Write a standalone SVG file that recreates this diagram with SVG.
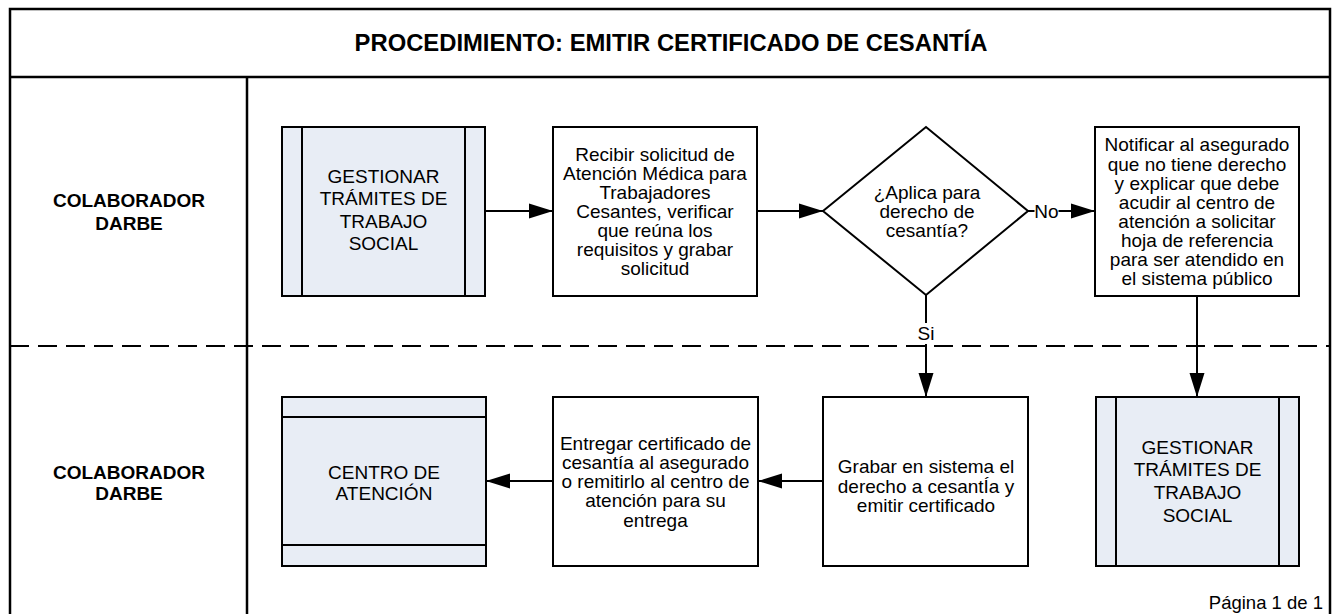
<svg xmlns="http://www.w3.org/2000/svg" width="1333" height="614" viewBox="0 0 1333 614">
<defs>
<style>
.frame{fill:none;stroke:#000;stroke-width:2.5}
.dash{fill:none;stroke:#000;stroke-width:2;stroke-dasharray:19 9}
.box{fill:#fff;stroke:#000;stroke-width:2}
.sub{fill:#E8EDF5;stroke:#000;stroke-width:2}
.in{fill:none;stroke:#000;stroke-width:2}
.t{font-family:"Liberation Sans",Arial,sans-serif;font-size:19px;text-anchor:middle;fill:#000}
.lane{font-weight:bold}
.title{font-size:23.8px;font-weight:bold}
.conn{fill:none;stroke:#000;stroke-width:2}
.bg{fill:#fff;stroke:none}
</style>
<marker id="ah" markerUnits="userSpaceOnUse" markerWidth="24" markerHeight="16" refX="24" refY="8" orient="auto">
<path d="M0,0.5 L24,8 L0,15.5 z" fill="#000"/>
</marker>
</defs>
<rect width="1333" height="614" fill="#fff"/>
<g id="frame">
<path class="frame" d="M10,620 V9 H1330 V620"/>
<line class="frame" x1="10" y1="77" x2="1330" y2="77"/>
<line class="frame" x1="247" y1="77" x2="247" y2="620"/>
<line class="dash" x1="10" y1="346" x2="1330" y2="346"/>
<text class="t title" x="671" y="50.5">PROCEDIMIENTO: EMITIR CERTIFICADO DE CESANTÍA</text>
<text class="t" x="1323" y="609" style="text-anchor:end;font-size:18.5px">Página 1 de 1</text>
</g>
<g id="lane1">
<text class="t lane" x="129" y="207">COLABORADOR</text>
<text class="t lane" x="129" y="230">DARBE</text>
</g>
<g id="lane2">
<text class="t lane" x="129" y="479">COLABORADOR</text>
<text class="t lane" x="129" y="500">DARBE</text>
</g>
<g id="connectors">
<path class="conn" d="M485,211 H553" marker-end="url(#ah)"/>
<path class="conn" d="M757,211 H823" marker-end="url(#ah)"/>
<path class="conn" d="M1028,211 H1095" marker-end="url(#ah)"/>
<path class="conn" d="M926,295 V397" marker-end="url(#ah)"/>
<path class="conn" d="M1197,296 V397" marker-end="url(#ah)"/>
<path class="conn" d="M823,481 H758" marker-end="url(#ah)"/>
<path class="conn" d="M553,481 H486" marker-end="url(#ah)"/>
<rect class="bg" x="1034.5" y="201" width="24" height="20"/>
<text class="t" x="1046.5" y="218">No</text>
<rect class="bg" x="917" y="323" width="18" height="21"/>
<text class="t" x="926" y="340">Si</text>
</g>
<g id="n1">
<rect class="sub" x="282" y="127" width="203" height="169"/>
<line class="in" x1="302" y1="127" x2="302" y2="296"/>
<line class="in" x1="465" y1="127" x2="465" y2="296"/>
<text class="t" x="383.5" y="183">GESTIONAR</text>
<text class="t" x="383.5" y="205">TRÁMITES DE</text>
<text class="t" x="383.5" y="228">TRABAJO</text>
<text class="t" x="383.5" y="250">SOCIAL</text>
</g>
<g id="n2">
<rect class="box" x="553" y="127" width="204" height="169"/>
<text class="t" x="655" y="160.5">Recibir solicitud de</text>
<text class="t" x="655" y="179.6">Atención Médica para</text>
<text class="t" x="655" y="198.7">Trabajadores</text>
<text class="t" x="655" y="217.8">Cesantes, verificar</text>
<text class="t" x="655" y="236.9">que reúna los</text>
<text class="t" x="655" y="256">requisitos y grabar</text>
<text class="t" x="655" y="275.1">solicitud</text>
</g>
<g id="n3">
<polygon class="box" points="823,211 926,127 1028,211 926,295"/>
<text class="t" x="927" y="199">¿Aplica para</text>
<text class="t" x="927" y="218">derecho de</text>
<text class="t" x="927" y="237">cesantía?</text>
</g>
<g id="n4">
<rect class="box" x="1095" y="127" width="204" height="169"/>
<text class="t" x="1197" y="151.4">Notificar al asegurado</text>
<text class="t" x="1197" y="170.5">que no tiene derecho</text>
<text class="t" x="1197" y="189.6">y explicar que debe</text>
<text class="t" x="1197" y="208.7">acudir al centro de</text>
<text class="t" x="1197" y="227.8">atención a solicitar</text>
<text class="t" x="1197" y="246.9">hoja de referencia</text>
<text class="t" x="1197" y="266">para ser atendido en</text>
<text class="t" x="1197" y="285.1">el sistema público</text>
</g>
<g id="n5">
<rect class="box" x="823" y="397" width="205" height="169"/>
<text class="t" x="926" y="473">Grabar en sistema el</text>
<text class="t" x="926" y="492.5">derecho a cesantÍa y</text>
<text class="t" x="926" y="512">emitir certificado</text>
</g>
<g id="n6">
<rect class="sub" x="1096" y="397" width="203" height="169"/>
<line class="in" x1="1116" y1="397" x2="1116" y2="566"/>
<line class="in" x1="1279" y1="397" x2="1279" y2="566"/>
<text class="t" x="1197.5" y="454">GESTIONAR</text>
<text class="t" x="1197.5" y="476">TRÁMITES DE</text>
<text class="t" x="1197.5" y="499">TRABAJO</text>
<text class="t" x="1197.5" y="522">SOCIAL</text>
</g>
<g id="n7">
<rect class="sub" x="282" y="397" width="204" height="169"/>
<line class="in" x1="282" y1="417" x2="486" y2="417"/>
<line class="in" x1="282" y1="545" x2="486" y2="545"/>
<text class="t" x="384" y="479">CENTRO DE</text>
<text class="t" x="384" y="500">ATENCIÓN</text>
</g>
<g id="n8">
<rect class="box" x="553" y="397" width="205" height="169"/>
<text class="t" x="655.5" y="450.1">Entregar certificado de</text>
<text class="t" x="655.5" y="469.2">cesantía al asegurado</text>
<text class="t" x="655.5" y="488.3">o remitirlo al centro de</text>
<text class="t" x="655.5" y="507.4">atención para su</text>
<text class="t" x="655.5" y="526.5">entrega</text>
</g>
</svg>
